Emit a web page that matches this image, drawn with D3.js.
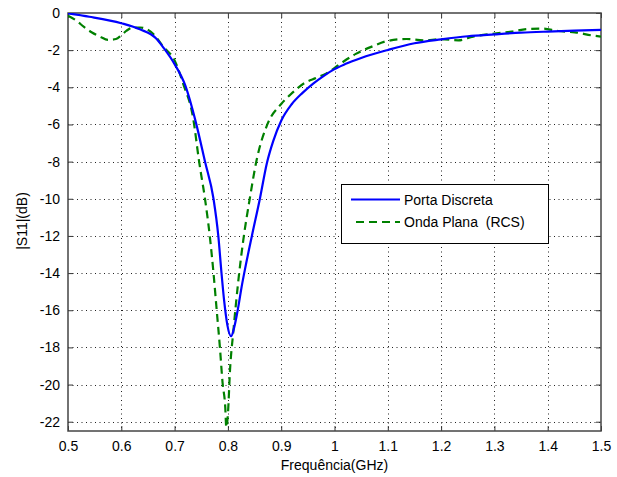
<!DOCTYPE html>
<html>
<head>
<meta charset="utf-8">
<script src="https://cdn.jsdelivr.net/npm/d3@7"></script>
<style>
  body { margin: 0; background: #fff; }
  text { font-family: "Liberation Sans", Arial, sans-serif; }
</style>
</head>
<body>
<div id="chart"></div>
<script>
// Porta Discreta (solid blue)
const freqPorta = [0.50, 0.54, 0.60, 0.635, 0.665, 0.68, 0.70, 0.72, 0.74, 0.757, 0.773, 0.782, 0.788, 0.793, 0.799, 0.806,
  0.812, 0.819, 0.826, 0.832, 0.845, 0.86, 0.873, 0.885, 0.90, 0.92, 0.94, 0.96, 0.98, 1.0, 1.02, 1.05, 1.1, 1.15, 1.2, 1.25,
  1.3, 1.35, 1.4, 1.45, 1.5];
const s11Porta = [-0.02, -0.2, -0.55, -0.88, -1.36, -1.9, -2.75, -3.9, -5.9, -8, -10, -12, -14, -15.5, -16.8, -17.4,
  -16.9, -15.9, -14.7, -13.8, -12, -10, -8.1, -6.9, -5.8, -4.9, -4.3, -3.8, -3.38, -3.02, -2.75, -2.42, -1.99, -1.63, -1.42, -1.25,
  -1.15, -1.06, -1.0, -0.95, -0.91];

// Onda Plana (RCS) (dashed green)
const freqOnda = [0.50, 0.515, 0.53, 0.545, 0.56, 0.575, 0.59, 0.60, 0.61, 0.62, 0.635, 0.655, 0.68, 0.70, 0.716, 0.735,
  0.746, 0.757, 0.766, 0.773, 0.779, 0.785, 0.790, 0.795, 0.797, 0.800, 0.804, 0.810, 0.820, 0.829, 0.841, 0.854, 0.874,
  0.90, 0.917, 0.945, 0.965, 0.985, 1.01, 1.04, 1.07, 1.10, 1.135, 1.167, 1.20, 1.232, 1.26, 1.30, 1.332, 1.364, 1.389,
  1.42, 1.451, 1.486, 1.50];
const s11Onda = [-0.15, -0.4, -0.75, -1.05, -1.27, -1.45, -1.4, -1.2, -0.95, -0.8, -0.78, -1.0, -1.85, -2.55, -3.8, -5.7,
  -8, -10, -12, -14, -16, -18, -19.9, -21.2, -22.3, -21.6, -19.2, -17.2, -14.3, -12.2, -10, -7.9, -6,
  -4.9, -4.4, -3.75, -3.5, -3.25, -2.75, -2.2, -1.81, -1.5, -1.4, -1.47, -1.41, -1.47, -1.27, -1.11, -1.0, -0.86, -0.84,
  -0.97, -1.04, -1.22, -1.27];

const xTicks = [0.5, 0.6, 0.7, 0.8, 0.9, 1.0, 1.1, 1.2, 1.3, 1.4, 1.5];
const yTicks = [0, -2, -4, -6, -8, -10, -12, -14, -16, -18, -20, -22];
const seriesNames = ["Porta Discreta", "Onda Plana  (RCS)"];

const width = 617, height = 477;
const plotL = 68, plotR = 601, plotT = 13, plotB = 431;

const svg = d3.select("#chart").append("svg")
  .attr("width", width)
  .attr("height", height);

const x = d3.scaleLinear().domain([0.5, 1.5]).range([plotL, plotR]);
const y = d3.scaleLinear().domain([-22.5, 0]).range([plotB, plotT]);

// dotted grid
svg.append("g")
  .selectAll("line")
  .data(xTicks.slice(1, -1))
  .join("line")
  .attr("x1", d => Math.round(x(d)) + 0.5).attr("x2", d => Math.round(x(d)) + 0.5)
  .attr("y1", plotT).attr("y2", plotB)
  .attr("stroke", "#222").attr("stroke-width", 1).attr("stroke-dasharray", "1,3.5");
svg.append("g")
  .selectAll("line")
  .data(yTicks.slice(1))
  .join("line")
  .attr("x1", plotL).attr("x2", plotR)
  .attr("y1", d => Math.round(y(d)) + 0.5).attr("y2", d => Math.round(y(d)) + 0.5)
  .attr("stroke", "#222").attr("stroke-width", 1).attr("stroke-dasharray", "1,3.5");

// axes, ticks pointing inwards on all four sides
const fmt = d => String(+d.toFixed(1));
svg.append("g")
  .attr("transform", `translate(0,${plotB})`)
  .call(d3.axisBottom(x).tickValues(xTicks).tickFormat(fmt).tickSizeInner(-5).tickSizeOuter(0).tickPadding(10))
  .call(g => g.selectAll("text").attr("font-size", 14).attr("fill", "#000"));
svg.append("g")
  .attr("transform", `translate(0,${plotT})`)
  .call(d3.axisTop(x).tickValues(xTicks).tickFormat("").tickSizeInner(-5).tickSizeOuter(0));
svg.append("g")
  .attr("transform", `translate(${plotL},0)`)
  .call(d3.axisLeft(y).tickValues(yTicks).tickFormat(d => d).tickSizeInner(-5).tickSizeOuter(0).tickPadding(8))
  .call(g => g.selectAll("text").attr("font-size", 14).attr("fill", "#000"));
svg.append("g")
  .attr("transform", `translate(${plotR},0)`)
  .call(d3.axisRight(y).tickValues(yTicks).tickFormat("").tickSizeInner(-5).tickSizeOuter(0));
svg.selectAll(".domain").remove();
svg.selectAll(".tick line").attr("stroke", "#333");

// box
svg.append("rect")
  .attr("x", plotL).attr("y", plotT)
  .attr("width", plotR - plotL).attr("height", plotB - plotT)
  .attr("fill", "none").attr("stroke", "#444").attr("stroke-width", 1.5);

// curves
svg.append("clipPath").attr("id", "clip")
  .append("rect").attr("x", plotL).attr("y", plotT).attr("width", plotR - plotL).attr("height", plotB - plotT);

const lineGen = d3.line().x(d => x(d[0])).y(d => y(d[1])).curve(d3.curveMonotoneX);

svg.append("path")
  .datum(d3.zip(freqOnda, s11Onda))
  .attr("clip-path", "url(#clip)")
  .attr("d", lineGen)
  .attr("fill", "none")
  .attr("stroke", "#008000")
  .attr("stroke-width", 2.2)
  .attr("stroke-dasharray", "8,5");

svg.append("path")
  .datum(d3.zip(freqPorta, s11Porta))
  .attr("clip-path", "url(#clip)")
  .attr("d", lineGen)
  .attr("fill", "none")
  .attr("stroke", "#0000ff")
  .attr("stroke-width", 2.2);

// axis labels
svg.append("text")
  .attr("x", (plotL + plotR) / 2).attr("y", 470)
  .attr("text-anchor", "middle")
  .attr("font-size", 14)
  .text("Frequência(GHz)");
svg.append("text")
  .attr("transform", "translate(27,221) rotate(-90)")
  .attr("text-anchor", "middle")
  .attr("font-size", 14)
  .text("|S11|(dB)");

// legend
const legend = svg.append("g");
legend.append("rect")
  .attr("x", 341.5).attr("y", 184.5).attr("width", 207).attr("height", 59)
  .attr("fill", "#fff").attr("stroke", "#000").attr("stroke-width", 1);
const legendColor = ["#0000ff", "#008000"];
const legendDash = [null, "8,5"];
seriesNames.forEach((name, i) => {
  const ly = 199.5 + i * 22.5;
  legend.append("line")
    .attr("x1", i === 0 ? 351 : 356).attr("x2", 400).attr("y1", ly).attr("y2", ly)
    .attr("stroke", legendColor[i]).attr("stroke-width", 2.2)
    .attr("stroke-dasharray", legendDash[i]);
  legend.append("text")
    .attr("x", 404).attr("y", ly + 5)
    .attr("font-size", 14)
    .style("white-space", "pre")
    .text(name);
});
</script>
</body>
</html>
